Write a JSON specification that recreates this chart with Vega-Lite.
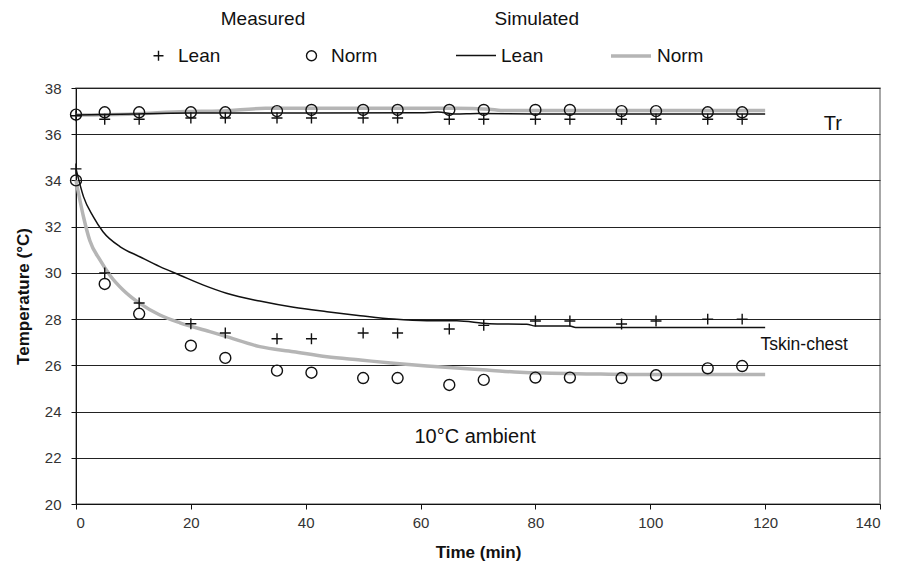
{
  "$schema": "https://vega.github.io/schema/vega-lite/v6.json",
  "autosize": {"type": "none"},
  "width": 804,
  "height": 416,
  "padding": {"left": 76, "top": 88, "right": 18, "bottom": 66},
  "background": "white",
  "config": {
    "font": "Liberation Sans",
    "view": {"stroke": "#8a8a8a", "strokeWidth": 1.5},
    "axis": {"labelFont": "Liberation Sans", "labelFontSize": 15, "labelColor": "#333", "titleFont": "Liberation Sans", "titleFontSize": 17, "titleFontWeight": "bold", "titleColor": "#111", "domainColor": "#111", "tickColor": "#111", "tickSize": 5},
    "legend": {"labelFont": "Liberation Sans", "titleFont": "Liberation Sans", "labelFontSize": 19, "titleFontSize": 19, "titleFontWeight": "normal", "labelColor": "#111", "titleColor": "#111"}
  },
  "datasets": {
    "measured": [
      {"t": 0, "T": 36.8, "subject": "Lean"}, {"t": 5, "T": 36.65, "subject": "Lean"}, {"t": 11, "T": 36.65, "subject": "Lean"}, {"t": 20, "T": 36.7, "subject": "Lean"}, {"t": 26, "T": 36.7, "subject": "Lean"}, {"t": 35, "T": 36.7, "subject": "Lean"}, {"t": 41, "T": 36.7, "subject": "Lean"}, {"t": 50, "T": 36.7, "subject": "Lean"}, {"t": 56, "T": 36.7, "subject": "Lean"}, {"t": 65, "T": 36.65, "subject": "Lean"}, {"t": 71, "T": 36.65, "subject": "Lean"}, {"t": 80, "T": 36.65, "subject": "Lean"}, {"t": 86, "T": 36.65, "subject": "Lean"}, {"t": 95, "T": 36.65, "subject": "Lean"}, {"t": 101, "T": 36.65, "subject": "Lean"}, {"t": 110, "T": 36.65, "subject": "Lean"}, {"t": 116, "T": 36.65, "subject": "Lean"},
      {"t": 0, "T": 36.85, "subject": "Norm"}, {"t": 5, "T": 36.95, "subject": "Norm"}, {"t": 11, "T": 36.95, "subject": "Norm"}, {"t": 20, "T": 36.95, "subject": "Norm"}, {"t": 26, "T": 36.95, "subject": "Norm"}, {"t": 35, "T": 37.0, "subject": "Norm"}, {"t": 41, "T": 37.05, "subject": "Norm"}, {"t": 50, "T": 37.05, "subject": "Norm"}, {"t": 56, "T": 37.05, "subject": "Norm"}, {"t": 65, "T": 37.05, "subject": "Norm"}, {"t": 71, "T": 37.05, "subject": "Norm"}, {"t": 80, "T": 37.05, "subject": "Norm"}, {"t": 86, "T": 37.05, "subject": "Norm"}, {"t": 95, "T": 37.0, "subject": "Norm"}, {"t": 101, "T": 37.0, "subject": "Norm"}, {"t": 110, "T": 36.95, "subject": "Norm"}, {"t": 116, "T": 36.95, "subject": "Norm"},
      {"t": 0, "T": 34.5, "subject": "Lean"}, {"t": 5, "T": 30.0, "subject": "Lean"}, {"t": 11, "T": 28.7, "subject": "Lean"}, {"t": 20, "T": 27.8, "subject": "Lean"}, {"t": 26, "T": 27.4, "subject": "Lean"}, {"t": 35, "T": 27.15, "subject": "Lean"}, {"t": 41, "T": 27.15, "subject": "Lean"}, {"t": 50, "T": 27.4, "subject": "Lean"}, {"t": 56, "T": 27.4, "subject": "Lean"}, {"t": 65, "T": 27.57, "subject": "Lean"}, {"t": 71, "T": 27.73, "subject": "Lean"}, {"t": 80, "T": 27.92, "subject": "Lean"}, {"t": 86, "T": 27.92, "subject": "Lean"}, {"t": 95, "T": 27.79, "subject": "Lean"}, {"t": 101, "T": 27.92, "subject": "Lean"}, {"t": 110, "T": 28.0, "subject": "Lean"}, {"t": 116, "T": 28.0, "subject": "Lean"},
      {"t": 0, "T": 34.0, "subject": "Norm"}, {"t": 5, "T": 29.52, "subject": "Norm"}, {"t": 11, "T": 28.23, "subject": "Norm"}, {"t": 20, "T": 26.85, "subject": "Norm"}, {"t": 26, "T": 26.32, "subject": "Norm"}, {"t": 35, "T": 25.77, "subject": "Norm"}, {"t": 41, "T": 25.68, "subject": "Norm"}, {"t": 50, "T": 25.45, "subject": "Norm"}, {"t": 56, "T": 25.45, "subject": "Norm"}, {"t": 65, "T": 25.15, "subject": "Norm"}, {"t": 71, "T": 25.37, "subject": "Norm"}, {"t": 80, "T": 25.47, "subject": "Norm"}, {"t": 86, "T": 25.47, "subject": "Norm"}, {"t": 95, "T": 25.45, "subject": "Norm"}, {"t": 101, "T": 25.57, "subject": "Norm"}, {"t": 110, "T": 25.87, "subject": "Norm"}, {"t": 116, "T": 25.97, "subject": "Norm"}
    ],
    "simulated": [
      {"t": 0, "T": 36.83, "model": "Norm (simulated)", "site": "Tr"}, {"t": 10, "T": 36.88, "model": "Norm (simulated)", "site": "Tr"}, {"t": 19, "T": 36.98, "model": "Norm (simulated)", "site": "Tr"}, {"t": 25, "T": 37.0, "model": "Norm (simulated)", "site": "Tr"}, {"t": 33, "T": 37.12, "model": "Norm (simulated)", "site": "Tr"}, {"t": 66, "T": 37.12, "model": "Norm (simulated)", "site": "Tr"}, {"t": 72, "T": 37.08, "model": "Norm (simulated)", "site": "Tr"}, {"t": 74, "T": 37.03, "model": "Norm (simulated)", "site": "Tr"}, {"t": 120, "T": 37.03, "model": "Norm (simulated)", "site": "Tr"},
      {"t": 0, "T": 34.0, "model": "Norm (simulated)", "site": "Tskin"}, {"t": 1.3, "T": 32.43, "model": "Norm (simulated)", "site": "Tskin"}, {"t": 2.4, "T": 31.4, "model": "Norm (simulated)", "site": "Tskin"}, {"t": 4.2, "T": 30.55, "model": "Norm (simulated)", "site": "Tskin"}, {"t": 5.9, "T": 29.9, "model": "Norm (simulated)", "site": "Tskin"}, {"t": 8.2, "T": 29.26, "model": "Norm (simulated)", "site": "Tskin"}, {"t": 11.1, "T": 28.68, "model": "Norm (simulated)", "site": "Tskin"}, {"t": 14.6, "T": 28.18, "model": "Norm (simulated)", "site": "Tskin"}, {"t": 18.1, "T": 27.84, "model": "Norm (simulated)", "site": "Tskin"}, {"t": 23.3, "T": 27.46, "model": "Norm (simulated)", "site": "Tskin"}, {"t": 26.2, "T": 27.24, "model": "Norm (simulated)", "site": "Tskin"}, {"t": 32, "T": 26.81, "model": "Norm (simulated)", "site": "Tskin"}, {"t": 37.9, "T": 26.59, "model": "Norm (simulated)", "site": "Tskin"}, {"t": 43.7, "T": 26.37, "model": "Norm (simulated)", "site": "Tskin"}, {"t": 49.5, "T": 26.23, "model": "Norm (simulated)", "site": "Tskin"}, {"t": 55.3, "T": 26.09, "model": "Norm (simulated)", "site": "Tskin"}, {"t": 61.1, "T": 25.97, "model": "Norm (simulated)", "site": "Tskin"}, {"t": 66.9, "T": 25.87, "model": "Norm (simulated)", "site": "Tskin"}, {"t": 71.5, "T": 25.8, "model": "Norm (simulated)", "site": "Tskin"}, {"t": 77.3, "T": 25.7, "model": "Norm (simulated)", "site": "Tskin"}, {"t": 90, "T": 25.63, "model": "Norm (simulated)", "site": "Tskin"}, {"t": 100, "T": 25.6, "model": "Norm (simulated)", "site": "Tskin"}, {"t": 120, "T": 25.6, "model": "Norm (simulated)", "site": "Tskin"},
      {"t": 0, "T": 36.83, "model": "Lean (simulated)", "site": "Tr"}, {"t": 5, "T": 36.85, "model": "Lean (simulated)", "site": "Tr"}, {"t": 10, "T": 36.88, "model": "Lean (simulated)", "site": "Tr"}, {"t": 20, "T": 36.92, "model": "Lean (simulated)", "site": "Tr"}, {"t": 40, "T": 36.92, "model": "Lean (simulated)", "site": "Tr"}, {"t": 60, "T": 36.93, "model": "Lean (simulated)", "site": "Tr"}, {"t": 63, "T": 36.96, "model": "Lean (simulated)", "site": "Tr"}, {"t": 66, "T": 36.88, "model": "Lean (simulated)", "site": "Tr"}, {"t": 70, "T": 36.9, "model": "Lean (simulated)", "site": "Tr"}, {"t": 80, "T": 36.88, "model": "Lean (simulated)", "site": "Tr"}, {"t": 100, "T": 36.88, "model": "Lean (simulated)", "site": "Tr"}, {"t": 120, "T": 36.88, "model": "Lean (simulated)", "site": "Tr"},
      {"t": 0, "T": 34.5, "model": "Lean (simulated)", "site": "Tskin"}, {"t": 1.3, "T": 33.3, "model": "Lean (simulated)", "site": "Tskin"}, {"t": 3, "T": 32.43, "model": "Lean (simulated)", "site": "Tskin"}, {"t": 4.7, "T": 31.78, "model": "Lean (simulated)", "site": "Tskin"}, {"t": 7.7, "T": 31.13, "model": "Lean (simulated)", "site": "Tskin"}, {"t": 11.1, "T": 30.7, "model": "Lean (simulated)", "site": "Tskin"}, {"t": 14.6, "T": 30.27, "model": "Lean (simulated)", "site": "Tskin"}, {"t": 18.1, "T": 29.9, "model": "Lean (simulated)", "site": "Tskin"}, {"t": 22.2, "T": 29.47, "model": "Lean (simulated)", "site": "Tskin"}, {"t": 26.2, "T": 29.12, "model": "Lean (simulated)", "site": "Tskin"}, {"t": 32, "T": 28.78, "model": "Lean (simulated)", "site": "Tskin"}, {"t": 37.9, "T": 28.51, "model": "Lean (simulated)", "site": "Tskin"}, {"t": 43.7, "T": 28.32, "model": "Lean (simulated)", "site": "Tskin"}, {"t": 49.5, "T": 28.15, "model": "Lean (simulated)", "site": "Tskin"}, {"t": 55.3, "T": 28.0, "model": "Lean (simulated)", "site": "Tskin"}, {"t": 61.1, "T": 27.93, "model": "Lean (simulated)", "site": "Tskin"}, {"t": 66.3, "T": 27.93, "model": "Lean (simulated)", "site": "Tskin"}, {"t": 72, "T": 27.8, "model": "Lean (simulated)", "site": "Tskin"}, {"t": 78.5, "T": 27.78, "model": "Lean (simulated)", "site": "Tskin"}, {"t": 80, "T": 27.7, "model": "Lean (simulated)", "site": "Tskin"}, {"t": 86, "T": 27.7, "model": "Lean (simulated)", "site": "Tskin"}, {"t": 87, "T": 27.64, "model": "Lean (simulated)", "site": "Tskin"}, {"t": 120, "T": 27.64, "model": "Lean (simulated)", "site": "Tskin"}
    ],
    "notes": [
      {"t": 131.8, "T": 36.45, "label": "Tr"},
      {"t": 126.8, "T": 26.88, "label": "Tskin-chest"},
      {"t": 69.5, "T": 22.9, "label": "10°C ambient"}
    ]
  },
  "encoding": {
    "x": {"field": "t", "type": "quantitative", "scale": {"domain": [0, 140], "nice": false}, "axis": {"values": [0, 20, 40, 60, 80, 100, 120, 140], "title": "Time (min)", "grid": false, "labelPadding": 6, "titlePadding": 14}},
    "y": {"field": "T", "type": "quantitative", "scale": {"domain": [20, 38], "nice": false, "zero": false}, "axis": {"values": [20, 22, 24, 26, 28, 30, 32, 34, 36, 38], "title": "Temperature (°C)", "grid": true, "gridColor": "#222", "gridWidth": 1, "gridOpacity": 1, "labelPadding": 10, "titlePadding": 12}}
  },
  "layer": [
    {
      "data": {"name": "simulated"},
      "mark": {"type": "line", "interpolate": "monotone"},
      "encoding": {
        "detail": {"field": "site"},
        "color": {"field": "model", "type": "nominal", "scale": {"domain": ["Lean (simulated)", "Norm (simulated)"], "range": ["#111111", "#b5b5b5"]},
          "legend": {"title": "Simulated", "orient": "none", "legendX": 379, "legendY": -78, "direction": "horizontal", "titleAnchor": "middle", "titleAlign": "right", "titlePadding": 5, "columnPadding": 60, "symbolType": "stroke", "symbolSize": 1600, "labelOffset": 4,
            "labelExpr": "split(datum.label, ' ')[0]"}},
        "strokeWidth": {"field": "model", "type": "nominal", "scale": {"domain": ["Lean (simulated)", "Norm (simulated)"], "range": [1.5, 3.5]}}
      }
    },
    {
      "data": {"name": "measured"},
      "mark": {"type": "point", "filled": false, "stroke": "#111", "strokeWidth": 1.4, "size": 120, "opacity": 1},
      "encoding": {
        "shape": {"field": "subject", "type": "nominal", "scale": {"domain": ["Lean", "Norm"], "range": ["M-1,0L1,0M0,-1L0,1", "circle"]},
          "legend": {"title": "Measured", "orient": "none", "legendX": 73, "legendY": -78, "direction": "horizontal", "titleAnchor": "middle", "titlePadding": 17, "columnPadding": 81, "symbolStrokeColor": "#111", "symbolStrokeWidth": 1.4, "symbolSize": 100, "labelOffset": 10}}
      }
    },
    {
      "data": {"name": "notes"},
      "transform": [{"filter": "datum.label != 'Tskin-chest'"}],
      "mark": {"type": "text", "fontSize": 20, "color": "#111", "baseline": "middle", "align": "center"},
      "encoding": {
        "text": {"field": "label"}
      }
    },
    {
      "data": {"name": "notes"},
      "transform": [{"filter": "datum.label == 'Tskin-chest'"}],
      "mark": {"type": "text", "fontSize": 17.5, "color": "#111", "baseline": "middle", "align": "center"},
      "encoding": {
        "text": {"field": "label"}
      }
    }
  ]
}
